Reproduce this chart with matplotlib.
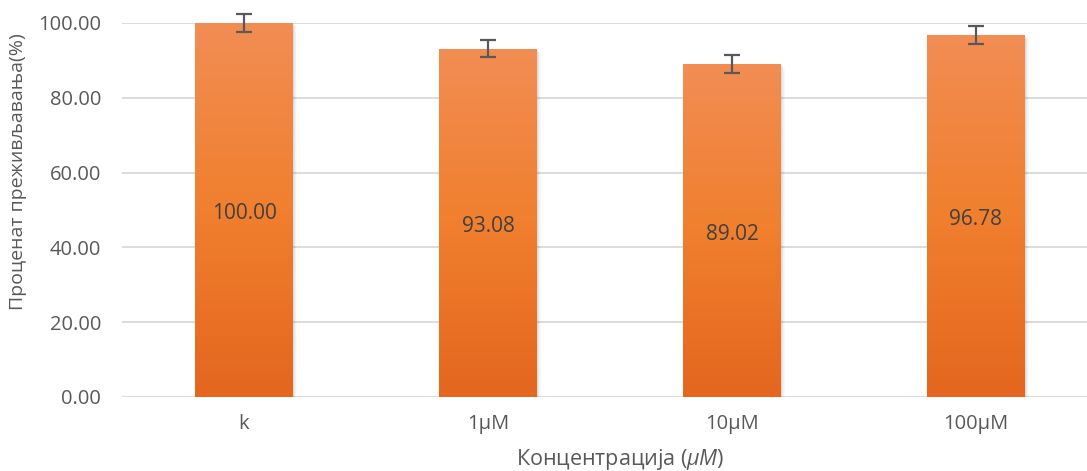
import numpy as np
import matplotlib
matplotlib.use("Agg")
import matplotlib.pyplot as plt
from matplotlib.colors import LinearSegmentedColormap
from matplotlib.patches import Rectangle

categories = ["k", "1μM", "10μM", "100μM"]
values = [100.00, 93.08, 89.02, 96.78]
errors = [2.5, 2.3, 2.4, 2.45]
y_ticks = [0, 20, 40, 60, 80, 100]

plt.rcParams["font.family"] = ["Open Sans", "DejaVu Sans"]
plt.rcParams["mathtext.fontset"] = "custom"
plt.rcParams["mathtext.it"] = "Open Sans:italic"
plt.rcParams["mathtext.rm"] = "Open Sans"

W, H = 1087, 471
fig = plt.figure(figsize=(W / 100, H / 100), dpi=100)
left, right, top, bottom = 122, 1098, 23, 397
ax = fig.add_axes([left / W, 1 - bottom / H, (right - left) / W, (bottom - top) / H])

x = np.arange(len(categories))
bar_w = 0.40
ax.set_xlim(-0.5, len(categories) - 0.5)
ax.set_ylim(0, 100)

grid_c = "#D9D9D9"
text_c = "#595959"
for t in y_ticks:
    ax.axhline(t, color=grid_c, lw=1.3, zorder=0)

cmap = LinearSegmentedColormap.from_list("bar", ["#E4661F", "#F07F2E", "#F28D54"])
grad = np.linspace(0, 1, 256).reshape(-1, 1)

for xi, v in zip(x, values):
    # soft drop shadow
    for k, a in enumerate([0.05, 0.04, 0.03, 0.02]):
        off = 0.006 + k * 0.004
        sh = Rectangle((xi - bar_w / 2 + off, -0.3 - k * 0.25), bar_w, v,
                       facecolor="#000000", alpha=a, lw=0, zorder=1)
        ax.add_patch(sh)
    rect = Rectangle((xi - bar_w / 2, 0), bar_w, v, facecolor="none", lw=0, zorder=2)
    ax.add_patch(rect)
    im = ax.imshow(grad, cmap=cmap, aspect="auto", origin="lower",
                   extent=(xi - bar_w / 2, xi + bar_w / 2, 0, v), zorder=2)
    im.set_clip_path(rect)
    ax.annotate(f"{v:.2f}", (xi, v / 2), xytext=(0, -2.5), textcoords="offset points",
                ha="center", va="center", fontsize=15, color="#404040", zorder=4)

ax.errorbar(x, values, yerr=errors, fmt="none", ecolor="#595959",
            elinewidth=1.6, capsize=6, capthick=1.6, zorder=5, clip_on=False)

ax.set_xlim(-0.5, len(categories) - 0.5)
ax.set_ylim(0, 100)
ax.set_yticks(y_ticks)
ax.set_yticklabels([f"{t:.2f}" for t in y_ticks])
ax.set_xticks(x)
ax.set_xticklabels(categories)
ax.tick_params(axis="y", length=0, pad=15, labelsize=14.5, colors=text_c)
ax.tick_params(axis="x", length=0, pad=12, labelsize=14.5, colors=text_c)
for s in ax.spines.values():
    s.set_visible(False)

fig.text(18 / W, 1 - 172 / H, "Проценат преживљавања(%)", rotation=90,
         ha="center", va="center", fontsize=14, color=text_c)
fig.text(620 / W, 1 - 459 / H, "Концентрација ($\\mathit{μM}$)",
         ha="center", va="center", fontsize=15.5, color=text_c)

fig.savefig("out.png", dpi=100, facecolor="white")
